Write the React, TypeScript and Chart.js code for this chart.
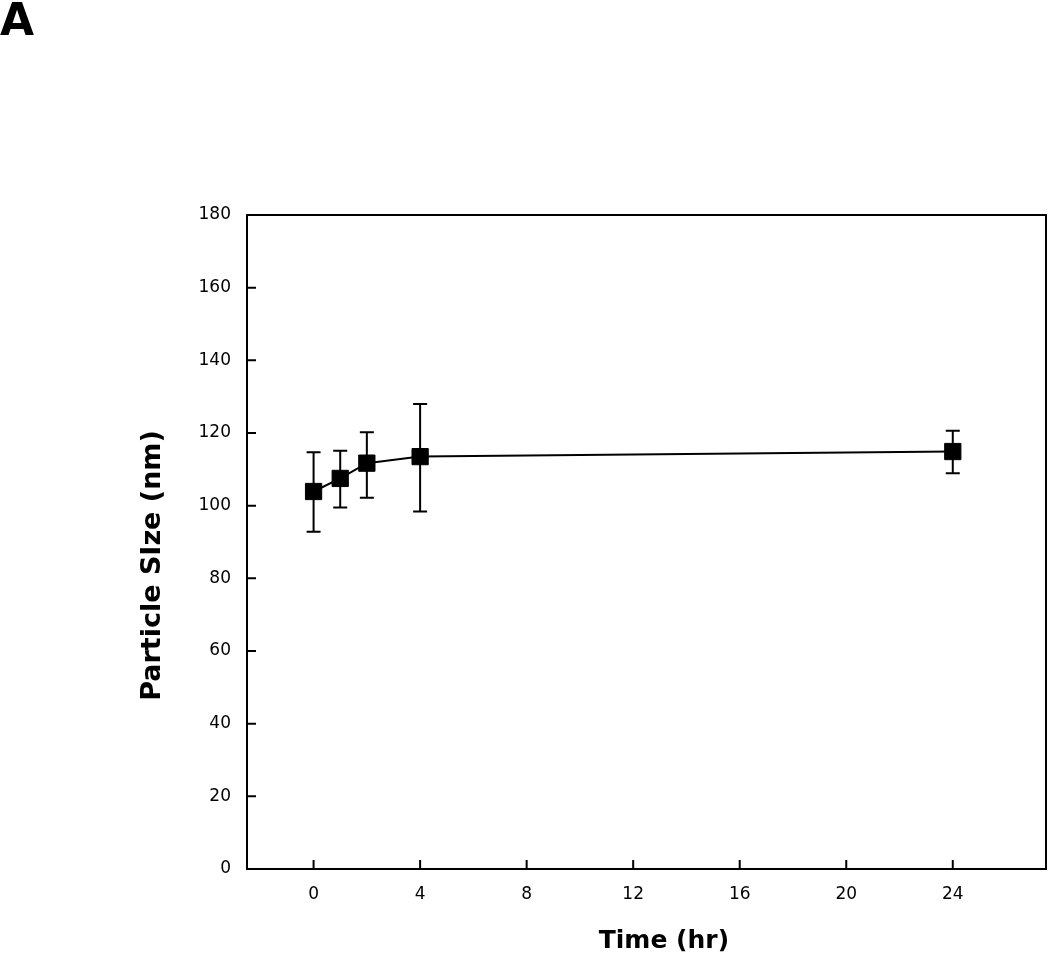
import React, { useEffect, useRef } from "react";
import { Chart, registerables } from "chart.js";

Chart.register(...registerables);

const times = [0, 1, 2, 4, 24];
const sizes = [103.9, 107.5, 111.7, 113.5, 114.9];
const upperErr = [114.7, 115.1, 120.2, 128.0, 120.6];
const lowerErr = [92.8, 99.5, 102.2, 98.4, 108.9];
const xTickValues = [0, 4, 8, 12, 16, 20, 24];
const yTickValues = [0, 20, 40, 60, 80, 100, 120, 140, 160, 180];
const xTitle = "\u00a0\u00a0\u00a0\u00a0Time (hr)";
const yTitle = "Particle SIze (nm)\u00a0\u00a0\u00a0\u00a0\u00a0";

const FONT = "'DejaVu Sans', Verdana, sans-serif";

const framePlugin = {
  id: "frameAndErrors",
  beforeDatasetsDraw(chart: any) {
    const { ctx, scales } = chart;
    const xs = scales.x;
    const ys = scales.y;
    ctx.save();
    ctx.strokeStyle = "#000";
    ctx.lineWidth = 2;
    for (let i = 0; i < times.length; i++) {
      const px = xs.getPixelForValue(times[i]);
      const pu = ys.getPixelForValue(upperErr[i]);
      const pl = ys.getPixelForValue(lowerErr[i]);
      ctx.beginPath();
      ctx.moveTo(px, pu);
      ctx.lineTo(px, pl);
      ctx.moveTo(px - 7, pu);
      ctx.lineTo(px + 7, pu);
      ctx.moveTo(px - 7, pl);
      ctx.lineTo(px + 7, pl);
      ctx.stroke();
    }
    ctx.restore();
  },
  afterDraw(chart: any) {
    const { ctx, chartArea, scales } = chart;
    const { left, right, top, bottom } = chartArea;
    ctx.save();
    ctx.strokeStyle = "#000";
    ctx.lineWidth = 2;
    ctx.strokeRect(left, top, right - left, bottom - top);
    ctx.beginPath();
    for (const v of yTickValues) {
      const py = scales.y.getPixelForValue(v);
      ctx.moveTo(left, py);
      ctx.lineTo(left + 9, py);
    }
    for (const v of xTickValues) {
      const px = scales.x.getPixelForValue(v);
      ctx.moveTo(px, bottom);
      ctx.lineTo(px, bottom - 9);
    }
    ctx.stroke();
    ctx.restore();
  },
};

export default function App() {
  const canvasRef = useRef<HTMLCanvasElement | null>(null);

  useEffect(() => {
    if (!canvasRef.current) return;
    const chart = new Chart(canvasRef.current, {
      type: "scatter",
      data: {
        datasets: [
          {
            data: times.map((t, i) => ({ x: t, y: sizes[i] })),
            showLine: true,
            borderColor: "#000",
            backgroundColor: "#000",
            borderWidth: 2,
            pointStyle: "rect",
            pointRadius: 11.5,
            pointBorderWidth: 1,
            pointBackgroundColor: "#000",
            pointBorderColor: "#000",
          },
        ],
      },
      plugins: [framePlugin],
      options: {
        animation: false,
        responsive: false,
        layout: { autoPadding: false, padding: { top: 215, right: 4, left: 0, bottom: 0 } },
        plugins: { legend: { display: false }, tooltip: { enabled: false } },
        scales: {
          x: {
            type: "linear",
            min: -2.5,
            max: 27.5,
            grid: { display: false, drawTicks: false },
            border: { display: false },
            afterBuildTicks: (scale: any) => {
              scale.ticks = xTickValues.map((v) => ({ value: v }));
            },
            afterFit: (scale: any) => {
              scale.height = 87;
              scale.paddingLeft = 0;
              scale.paddingRight = 0;
            },
            ticks: {
              autoSkip: false,
              maxRotation: 0,
              padding: 15,
              color: "#000",
              font: { family: FONT, size: 17 },
            },
            title: {
              display: true,
              text: xTitle,
              color: "#000",
              font: { family: FONT, size: 25, weight: "bold" },
              padding: { top: 5, bottom: 0 },
            },
          },
          y: {
            type: "linear",
            min: 0,
            max: 180,
            grid: { display: false, drawTicks: false },
            border: { display: false },
            afterBuildTicks: (scale: any) => {
              scale.ticks = yTickValues.map((v) => ({ value: v }));
            },
            afterFit: (scale: any) => {
              scale.width = 247;
            },
            ticks: {
              autoSkip: false,
              padding: 16,
              color: "#000",
              font: { family: FONT, size: 17 },
            },
            title: {
              display: true,
              text: yTitle,
              color: "#000",
              font: { family: FONT, size: 27, weight: "bold" },
              padding: { top: 137, bottom: 0 },
            },
          },
        },
      },
    });
    return () => chart.destroy();
  }, []);

  return (
    <div style={{ position: "absolute", left: 0, top: 0, width: 1050, height: 956, background: "#fff" }}>
      <div
        style={{
          position: "absolute",
          left: 0,
          top: -2,
          fontFamily: FONT,
          fontWeight: "bold",
          fontSize: 44,
          lineHeight: 1,
          color: "#000",
        }}
      >
        A
      </div>
      <canvas ref={canvasRef} width={1050} height={956} style={{ display: "block" }} />
    </div>
  );
}
